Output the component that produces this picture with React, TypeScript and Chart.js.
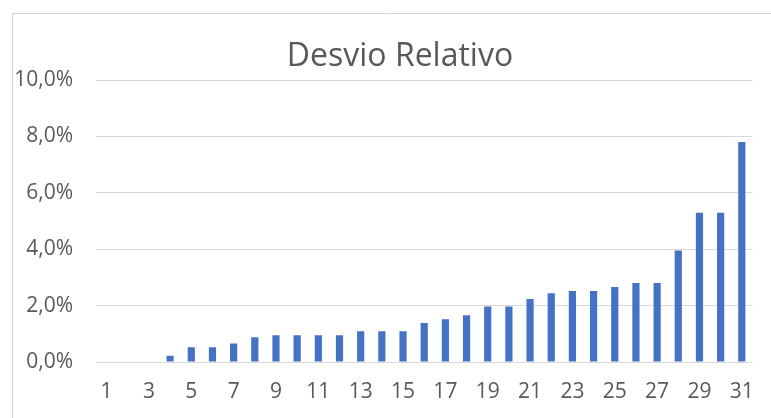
import React, { useEffect, useRef } from "react";
import { Chart, registerables } from "chart.js";

Chart.register(...registerables);

const categories: string[] = Array.from({ length: 31 }, (_, i) => String(i + 1));
const desvioValues: number[] = [
  0, 0, 0, 0.22, 0.52, 0.52, 0.66, 0.88, 0.95, 0.95, 0.95, 0.95, 1.09, 1.09, 1.09, 1.38,
  1.52, 1.66, 1.97, 1.97, 2.23, 2.44, 2.52, 2.52, 2.66, 2.8, 2.8, 3.95, 5.29, 5.29, 7.8,
];
const titleText = "Desvio Relativo";
const yMin = 0;
const yMax = 10;
const yStep = 2;

const frameAndTitlePlugin = {
  id: "frameAndTitle",
  beforeDraw(chart: any) {
    const ctx = chart.ctx;
    ctx.save();
    ctx.fillStyle = "#ffffff";
    ctx.fillRect(0, 0, chart.width, chart.height);
    ctx.strokeStyle = "#d4d4d4";
    ctx.lineWidth = 1;
    ctx.beginPath();
    ctx.moveTo(12.5, chart.height);
    ctx.lineTo(12.5, 13.5);
    ctx.lineTo(chart.width, 13.5);
    ctx.stroke();
    ctx.fillStyle = "#595959";
    ctx.font = "32px 'Open Sans'";
    ctx.textAlign = "center";
    ctx.textBaseline = "middle";
    ctx.fillText(titleText, 400, 57);
    ctx.restore();
  },
};

export default function App() {
  const canvasRef = useRef<HTMLCanvasElement | null>(null);

  useEffect(() => {
    if (!canvasRef.current) return;
    const chart = new Chart(canvasRef.current, {
      type: "bar",
      data: {
        labels: categories,
        datasets: [
          {
            label: titleText,
            data: desvioValues,
            backgroundColor: "#4472C4",
            borderWidth: 0,
            categoryPercentage: 1,
            barPercentage: 0.34,
          },
        ],
      },
      plugins: [frameAndTitlePlugin],
      options: {
        responsive: false,
        animation: false,
        maintainAspectRatio: false,
        layout: { padding: { left: 0, right: 11, top: 80, bottom: 0 } },
        plugins: {
          legend: { display: false },
          tooltip: { enabled: false },
          title: { display: false },
        },
        scales: {
          x: {
            grid: { display: false, drawTicks: false },
            border: { display: false },
            ticks: {
              color: "#595959",
              font: { family: "'Open Sans'", size: 21 },
              autoSkip: false,
              maxRotation: 0,
              minRotation: 0,
              padding: 17,
              callback: (_v: any, i: number) => (i % 2 === 0 ? categories[i] : ""),
            },
            afterFit: (s: any) => {
              s.height = 56;
            },
          },
          y: {
            min: yMin,
            max: yMax,
            grid: { color: "#d9d9d9", lineWidth: 1, drawTicks: false },
            border: { display: false },
            ticks: {
              stepSize: yStep,
              color: "#595959",
              font: { family: "'Open Sans'", size: 21 },
              padding: 23,
              callback: (v: any) => Number(v).toFixed(1).replace(".", ",") + "%",
            },
            afterFit: (s: any) => {
              s.width = 96;
            },
          },
        },
      },
    });
    return () => chart.destroy();
  }, []);

  return (
    <div style={{ position: "fixed", left: 0, top: 0, width: 771, height: 418 }}>
      <canvas ref={canvasRef} width={771} height={418} style={{ width: 771, height: 418 }} />
    </div>
  );
}
